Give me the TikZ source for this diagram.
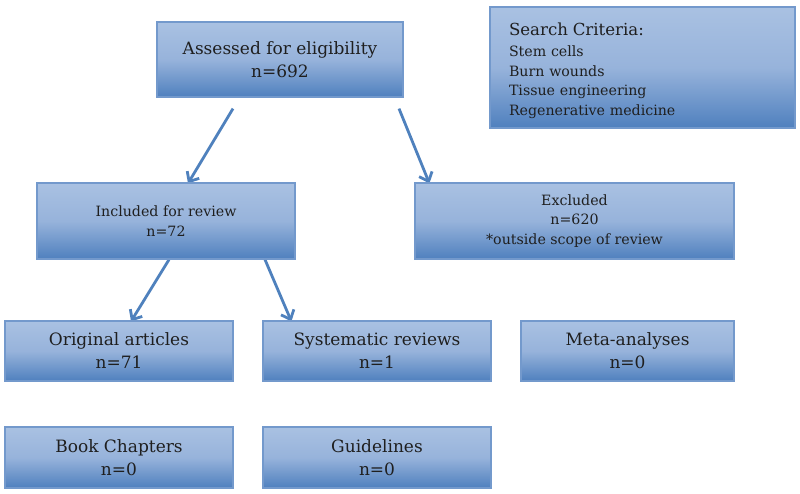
\documentclass[tikz,border=0pt]{standalone}
\usepackage{fontspec}
\setmainfont{DejaVu Serif}
\usetikzlibrary{arrows.meta}
\pgfdeclarelayer{background}
\pgfsetlayers{background,main}
\definecolor{boxtop}{HTML}{A9C1E2}
\definecolor{boxmid}{HTML}{97B3DB}
\definecolor{boxbot}{HTML}{4F80BE}
\definecolor{boxline}{HTML}{7399CC}
\definecolor{arrowc}{HTML}{4F81BD}
\tikzset{
  flowbox/.style={draw=boxline, line width=1.2pt, top color=boxtop, bottom color=boxbot, middle color=boxmid,
    align=center, inner sep=2pt, text=black!88},
  bigtxt/.style={font=\fontsize{17}{23}\selectfont},
  smalltxt/.style={font=\fontsize{14.2}{19.5}\selectfont},
  arr/.style={draw=arrowc, line width=2.8pt, -{Straight Barb[length=8pt,width=14pt,line width=2.8pt]}}
}
\begin{document}
\begin{tikzpicture}[x=1pt,y=-1pt]
\useasboundingbox (0,0) rectangle (800,493);
\node[flowbox,bigtxt, minimum width=246pt, minimum height=75pt] (assess) at (280,59.5) {Assessed for eligibility\\n=692};
\node[flowbox, font=\fontsize{14.2}{19.5}\selectfont, minimum width=305pt, minimum height=121pt, align=left, inner xsep=19pt, text width=267pt] (search) at (642.5,67.5)
  {\rule{0pt}{19pt}{\fontsize{16.6}{20}\selectfont Search Criteria:}\\[2pt]Stem cells\\Burn wounds\\Tissue engineering\\Regenerative medicine};
\node[flowbox,smalltxt, minimum width=258pt, minimum height=76pt] (incl) at (166,221) {Included for review\\n=72};
\node[flowbox,smalltxt, minimum width=319pt, minimum height=76pt] (excl) at (574.5,221) {Excluded\\n=620\\*outside scope of review};
\node[flowbox,bigtxt, minimum width=228pt, minimum height=60pt] (orig) at (119,351) {Original articles\\n=71};
\node[flowbox,bigtxt, minimum width=228pt, minimum height=60pt] (sys) at (377,351) {Systematic reviews\\n=1};
\node[flowbox,bigtxt, minimum width=213pt, minimum height=60pt] (meta) at (627.5,351) {Meta-analyses\\n=0};
\node[flowbox,bigtxt, minimum width=228pt, minimum height=61pt] (book) at (119,457.5) {Book Chapters\\n=0};
\node[flowbox,bigtxt, minimum width=228pt, minimum height=61pt] (guide) at (377,457.5) {Guidelines\\n=0};
\begin{pgfonlayer}{background}
\draw[arr] ([xshift=-47pt,yshift=-11pt]assess.south) -- ([xshift=22pt,yshift=-1pt]incl.north);
\draw[arr] ([xshift=119pt,yshift=-11pt]assess.south) -- ([xshift=15pt,yshift=-1pt]excl.north west);
\draw[arr] ([xshift=3pt]incl.south) -- ([xshift=12pt,yshift=-1pt]orig.north);
\draw[arr] ([xshift=99pt]incl.south) -- ([xshift=29pt,yshift=-1pt]sys.north west);
\end{pgfonlayer}
\end{tikzpicture}
\end{document}
